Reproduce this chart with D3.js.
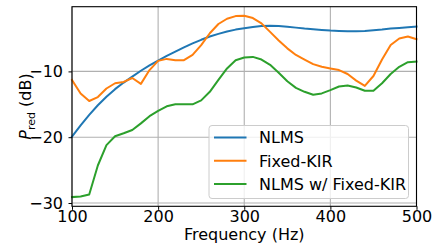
<!DOCTYPE html>
<html lang="en">
<head>
    <meta charset="UTF-8">
    <title>Power reduction vs frequency</title>
    <script src="https://d3js.org/d3.v7.min.js"></script>
    <style>
        body { margin: 0; background: #fff; }
        text { font-family: "DejaVu Sans", sans-serif; fill: #000; }
    </style>
</head>
<body>
<div id="chart"></div>

<script>
    // frequencies in Hz, 10 Hz steps
    var freqs = d3.range(100, 501, 10);

    var seriesNames = ["NLMS", "Fixed-KIR", "NLMS w/ Fixed-KIR"];

    var nlms = [-19.9, -18.2, -16.6, -15.15, -13.85, -12.7, -11.7, -10.8, -9.9, -9.1,
        -8.35, -7.65, -7.0, -6.35, -5.75, -5.2, -4.7, -4.3, -3.95, -3.65,
        -3.45, -3.25, -3.1, -3.05, -3.1, -3.2, -3.35, -3.5, -3.6, -3.7,
        -3.8, -3.85, -3.9, -3.9, -3.85, -3.75, -3.65, -3.5, -3.4, -3.3, -3.2];

    var fixedKir = [-11.3, -13.35, -14.5, -13.9, -12.6, -11.8, -11.6, -11.0, -11.9, -9.8,
        -8.4, -8.1, -8.3, -8.3, -7.5, -6.0, -4.2, -2.8, -2.0, -1.6,
        -1.54, -1.9, -2.7, -4.0, -5.3, -6.5, -7.5, -8.2, -8.9, -9.3,
        -9.55, -9.8, -10.4, -11.4, -12.2, -10.7, -8.2, -6.0, -5.0, -4.7, -5.1];

    var nlmsFixedKir = [-29.1, -29.0, -28.7, -24.3, -21.2, -19.85, -19.4, -18.9, -17.9, -16.8,
        -16.0, -15.3, -15.0, -15.0, -15.0, -14.4, -13.1, -11.3, -9.55, -8.3,
        -7.9, -7.8, -8.2, -9.0, -10.2, -11.5, -12.5, -13.1, -13.55, -13.35,
        -12.85, -12.3, -12.15, -12.45, -12.95, -12.95, -11.8, -10.4, -9.3, -8.6, -8.5];

    var xTicks = [100, 200, 300, 400, 500];
    var yTicks = [-30, -20, -10];

    var colours = ["#1f77b4", "#ff7f0e", "#2ca02c"];

    var W = 433, H = 245;
    var margin = {top: 6.7, right: 16.5, bottom: 38.7, left: 72};

    var svg = d3.select("#chart")
        .append("svg")
            .attr("width", W)
            .attr("height", H);

    var x = d3.scaleLinear()
        .domain([100, 500])
        .range([margin.left, W - margin.right]);

    var y = d3.scaleLinear()
        .domain([-30.5, -0.17])
        .range([H - margin.bottom, margin.top]);

    // grid lines
    svg.append("g")
        .selectAll("line")
        .data(xTicks)
        .enter()
        .append("line")
            .attr("x1", function(d) { return x(d); })
            .attr("x2", function(d) { return x(d); })
            .attr("y1", y.range()[0])
            .attr("y2", y.range()[1])
            .attr("stroke", "#b0b0b0")
            .attr("stroke-width", 1.1);

    svg.append("g")
        .selectAll("line")
        .data(yTicks)
        .enter()
        .append("line")
            .attr("x1", x.range()[0])
            .attr("x2", x.range()[1])
            .attr("y1", function(d) { return y(d); })
            .attr("y2", function(d) { return y(d); })
            .attr("stroke", "#b0b0b0")
            .attr("stroke-width", 1.1);

    // curves
    var allSeries = [nlms, fixedKir, nlmsFixedKir];
    var line = d3.line()
        .x(function(d, i) { return x(freqs[i]); })
        .y(function(d) { return y(d); });

    svg.append("g")
        .selectAll("path")
        .data(allSeries)
        .enter()
        .append("path")
            .attr("d", line)
            .attr("fill", "none")
            .attr("stroke", function(d, i) { return colours[i]; })
            .attr("stroke-width", 2)
            .attr("stroke-linejoin", "round")
            .attr("stroke-linecap", "square");

    // axes
    var xAxis = svg.append("g")
        .attr("transform", "translate(0," + y.range()[0] + ")")
        .call(d3.axisBottom(x).tickValues(xTicks).tickSize(3.5).tickPadding(1.2));

    var yAxis = svg.append("g")
        .attr("transform", "translate(" + x.range()[0] + ",0)")
        .call(d3.axisLeft(y).tickValues(yTicks).tickSize(3.5).tickPadding(5.5));

    [xAxis, yAxis].forEach(function(a) {
        a.selectAll("text").style("font-size", "16px").style("font-family", "DejaVu Sans");
        a.selectAll(".tick line").attr("stroke", "#000").attr("stroke-width", 1);
        a.select(".domain").remove();
    });

    // frame
    svg.append("rect")
        .attr("x", x.range()[0])
        .attr("y", y.range()[1])
        .attr("width", x.range()[1] - x.range()[0])
        .attr("height", y.range()[0] - y.range()[1])
        .attr("fill", "none")
        .attr("stroke", "#000")
        .attr("stroke-width", 1.1);

    // axis labels
    svg.append("text")
        .attr("x", (x.range()[0] + x.range()[1]) / 2)
        .attr("y", 240)
        .attr("text-anchor", "middle")
        .style("font-size", "16px")
        .text("Frequency (Hz)");

    var yLab = svg.append("text")
        .attr("transform", "translate(31," + ((y.range()[0] + y.range()[1]) / 2) + ") rotate(-90)")
        .attr("text-anchor", "middle")
        .style("font-size", "16px");
    yLab.append("tspan").style("font-style", "italic").text("P");
    yLab.append("tspan").attr("dy", 4).style("font-size", "11px").text("red");
    yLab.append("tspan").attr("dy", -4).text(" (dB)");

    // legend
    var legend = svg.append("g")
        .attr("transform", "translate(209,125.5)");

    legend.append("rect")
        .attr("width", 199.5)
        .attr("height", 73)
        .attr("rx", 3)
        .attr("fill", "#fff")
        .attr("fill-opacity", 0.8)
        .attr("stroke", "#cccccc")
        .attr("stroke-width", 1);

    var rows = legend.selectAll(".row")
        .data(seriesNames)
        .enter()
        .append("g")
            .attr("class", "row")
            .attr("transform", function(d, i) { return "translate(0," + (12 + i * 23.3) + ")"; });

    rows.append("line")
        .attr("x1", 5)
        .attr("x2", 37.5)
        .attr("stroke", function(d, i) { return colours[i]; })
        .attr("stroke-width", 2);

    rows.append("text")
        .attr("x", 50)
        .attr("dy", "0.36em")
        .style("font-size", "16px")
        .text(function(d) { return d; });
</script>
</body>
</html>
